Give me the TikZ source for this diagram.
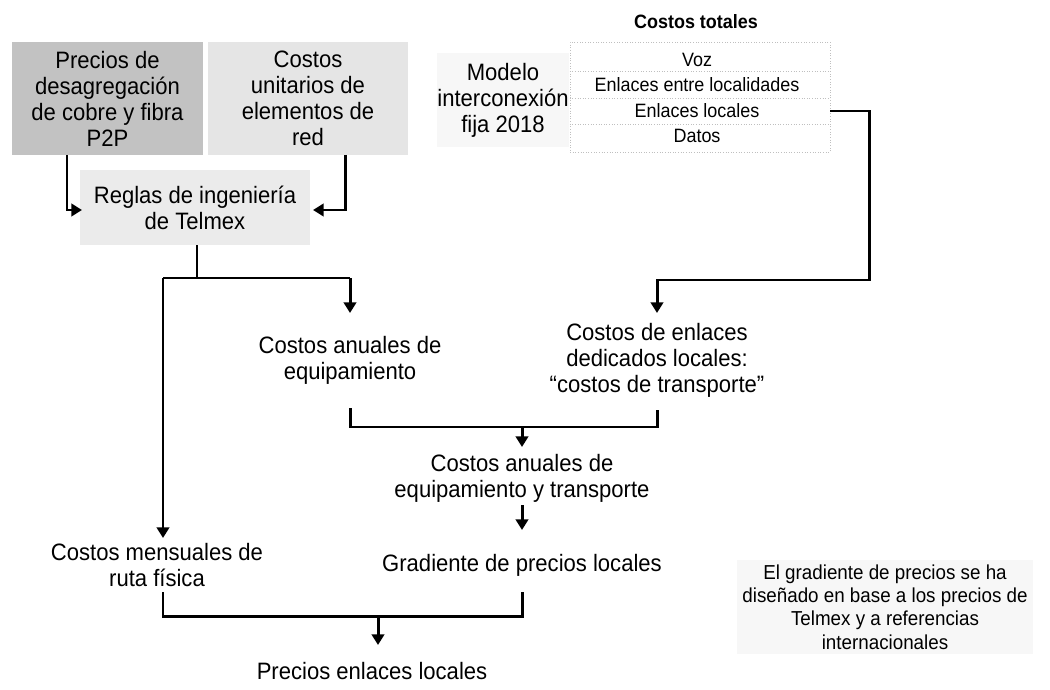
\documentclass[tikz,border=0pt]{standalone}
\usepackage{fontspec}
\setmainfont{Liberation Sans}[FakeStretch=0.93]
\usetikzlibrary{arrows.meta}
\begin{document}
\begin{tikzpicture}[x=0.02cm,y=-0.02cm,
  txt/.style={align=center,font=\fontsize{13.5}{14.8}\selectfont,inner sep=0pt},
  smalltxt/.style={align=center,font=\fontsize{11}{12.4}\selectfont,inner sep=0pt},
  shade/.style={inner sep=0pt,align=center,font=\fontsize{13.5}{14.8}\selectfont},
  faint/.style={draw=black!25,line width=0.5pt,densely dotted},
  conn/.style={line width=1.7pt},
  arr/.style={conn,-{Triangle[width=7pt,length=6pt]}}]
\useasboundingbox (0,0) rectangle (1050,689);

% ---- top row boxes
\node[shade,fill=black!24,minimum width=3.82cm,minimum height=2.26cm] (p2p) at (107.5,98.5)
  {Precios de\\desagregación\\de cobre y fibra\\P2P};
\node[shade,fill=black!10,minimum width=4.0cm,minimum height=2.26cm] (unit) at (308,98.5)
  {Costos\\unitarios de\\elementos de\\red};
\node[shade,fill=black!3,minimum width=2.5cm,minimum height=1.9cm] (modelo) at (503,100)
  {Modelo\\interconexión\\fija 2018};

% ---- costos totales table
\node[font=\bfseries\fontsize{11}{12}\selectfont,inner sep=0pt] (ctot) at (696,22) {Costos totales};
\node[faint,draw,minimum width=5.2cm,minimum height=2.2cm,inner sep=0pt] (tab) at (700,97) {};
\draw[faint] (tab.west |- 0,71) -- (tab.east |- 0,71);
\draw[faint] (tab.west |- 0,98) -- (tab.east |- 0,98);
\draw[faint] (tab.west |- 0,124) -- (tab.east |- 0,124);
\node[smalltxt] (voz) at (697,60) {Voz};
\node[smalltxt] (eel) at (697,85) {Enlaces entre localidades};
\node[smalltxt] (elo) at (697,111) {Enlaces locales};
\node[smalltxt] (dat) at (697,136) {Datos};

% ---- reglas
\node[shade,fill=black!8,minimum width=4.6cm,minimum height=1.5cm] (reglas) at (195,207.5)
  {Reglas de ingeniería\\de Telmex};

% ---- middle nodes
\node[txt] (anual) at (350,360) {Costos anuales de\\equipamiento};
\node[txt] (trans) at (657,360) {Costos de enlaces\\dedicados locales:\\“costos de transporte”};
\node[txt] (anualt) at (522,478) {Costos anuales de\\equipamiento y transporte};
\node[txt] (grad) at (522,565) {Gradiente de precios locales};
\node[txt] (mens) at (157,565) {Costos mensuales de\\ruta física};
\node[txt] (precios) at (372,671) {Precios enlaces locales};
\node[smalltxt,fill=black!3,inner sep=3pt,font=\fontsize{11.5}{13.2}\selectfont] (nota) at (885,607)
  {El gradiente de precios se ha\\diseñado en base a los precios de\\Telmex y a referencias\\internacionales};

% ---- connector coordinates
\coordinate (a1) at (67,155);  \coordinate (a2) at (67,210);  \coordinate (a3) at (82,210);
\coordinate (b1) at (345,155); \coordinate (b2) at (345,210); \coordinate (b3) at (313,210);
\coordinate (r1) at (197,245); \coordinate (r2) at (197,278);
\coordinate (hl) at (163,278); \coordinate (hr) at (350,278);
\coordinate (anualtop) at (350,313); \coordinate (menstop) at (163,538);
\coordinate (t1) at (830,111); \coordinate (t2) at (869,111); \coordinate (t3) at (869,280);
\coordinate (t4) at (657,280); \coordinate (transtop) at (657,313);
\coordinate (m1) at (350,408); \coordinate (m2) at (350,427);
\coordinate (m3) at (657,427); \coordinate (m4) at (657,410);
\coordinate (mc) at (522,427); \coordinate (anualttop) at (522,447);
\coordinate (g1) at (522,505); \coordinate (g2) at (522,530);
\coordinate (n1) at (163,592); \coordinate (n2) at (163,616);
\coordinate (n3) at (522,616); \coordinate (n4) at (522,592);
\coordinate (nc) at (378,616); \coordinate (preciostop) at (378,645);

% ---- connectors
\draw[arr] (a1) -- (a2) -- (a3);
\draw[arr] (b1) -- (b2) -- (b3);
\draw[conn] (r1) -- (r2);
\draw[conn] (hl) -- (hr);
\draw[arr] (hr) -- (anualtop);
\draw[arr] (hl) -- (menstop);
\draw[arr] (t1) -- (t2) -- (t3) -- (t4) -- (transtop);
\draw[conn] (m1) -- (m2) -- (m3) -- (m4);
\draw[arr] (mc) -- (anualttop);
\draw[arr] (g1) -- (g2);
\draw[conn] (n1) -- (n2) -- (n3) -- (n4);
\draw[arr] (nc) -- (preciostop);
\end{tikzpicture}
\end{document}
